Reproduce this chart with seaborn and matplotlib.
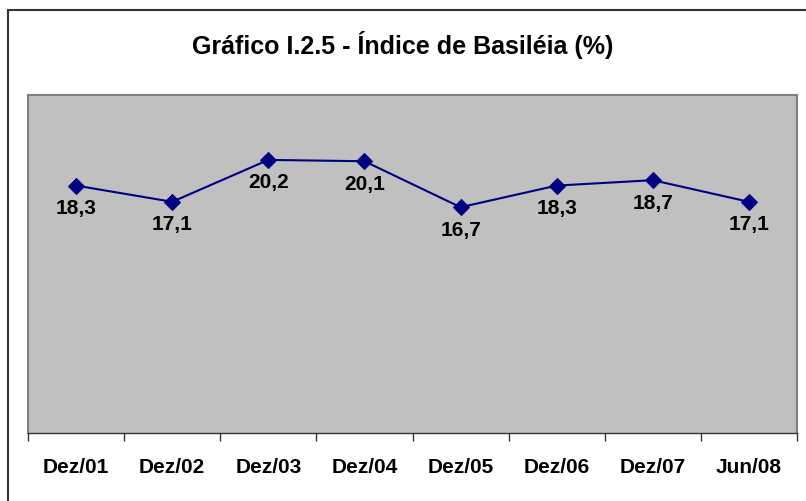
import numpy as np
import pandas as pd
import matplotlib
matplotlib.use("Agg")
import matplotlib.pyplot as plt
import matplotlib.ticker as mticker
from matplotlib.patches import Rectangle
import seaborn as sns

periods = ["Dez/01", "Dez/02", "Dez/03", "Dez/04", "Dez/05", "Dez/06", "Dez/07", "Jun/08"]
basileia = [18.3, 17.1, 20.2, 20.1, 16.7, 18.3, 18.7, 17.1]

sns.set_style("white")
plt.rcParams["font.family"] = ["Liberation Sans", "DejaVu Sans"]
plt.rcParams["text.color"] = "black"
plt.rcParams["xtick.color"] = "black"

W, H = 806, 502
fig = plt.figure(figsize=(W / 100, H / 100), dpi=100)

# outer chart border (only left/top visible in the crop)
fig.patches.append(Rectangle((8 / W, -0.1), 1.2, 1.1 - 11 / H, transform=fig.transFigure,
                             fill=False, edgecolor="#333333", linewidth=1.5))

ax = fig.add_axes([28 / W, 1 - 434 / H, (797 - 28) / W, (434 - 96) / H])
ax.set_facecolor("#C0C0C0")

df = pd.DataFrame({"periodo": periods, "indice": basileia})
sns.lineplot(data=df, x="periodo", y="indice", ax=ax, color="#000080", linewidth=1.5,
             marker="D", markersize=8.5, markeredgecolor="#000080", sort=False)

for i, v in enumerate(basileia):
    ax.annotate(f"{v:.1f}".replace(".", ","), (i, v), xytext=(0, -9), textcoords="offset points",
                ha="center", va="top", fontsize=15, fontweight="bold", color="black")

ax.set_xlim(-0.5, len(periods) - 0.5)
ax.set_ylim(0, 25)
ax.set_yticks([])
ax.set_xlabel("")
ax.set_ylabel("")
ax.xaxis.set_minor_locator(mticker.FixedLocator(np.arange(-0.5, len(periods), 1.0)))
ax.tick_params(axis="x", which="major", length=0, pad=17, labelsize=15, labelcolor="black")
ax.tick_params(axis="x", which="minor", length=6, width=1, color="#333333", direction="out", bottom=True)
for lbl in ax.get_xticklabels():
    lbl.set_fontweight("bold")

for side in ["top", "right", "left"]:
    ax.spines[side].set_visible(True)
    ax.spines[side].set_color("#808080")
    ax.spines[side].set_linewidth(1.5)
ax.spines["bottom"].set_color("#333333")
ax.spines["bottom"].set_linewidth(1)

fig.text(403 / W, 1 - 45 / H, "Gráfico I.2.5 - Índice de Basiléia (%)", ha="center", va="center",
         fontsize=18, fontweight="bold", color="black")

fig.savefig("out.png", dpi=100)
